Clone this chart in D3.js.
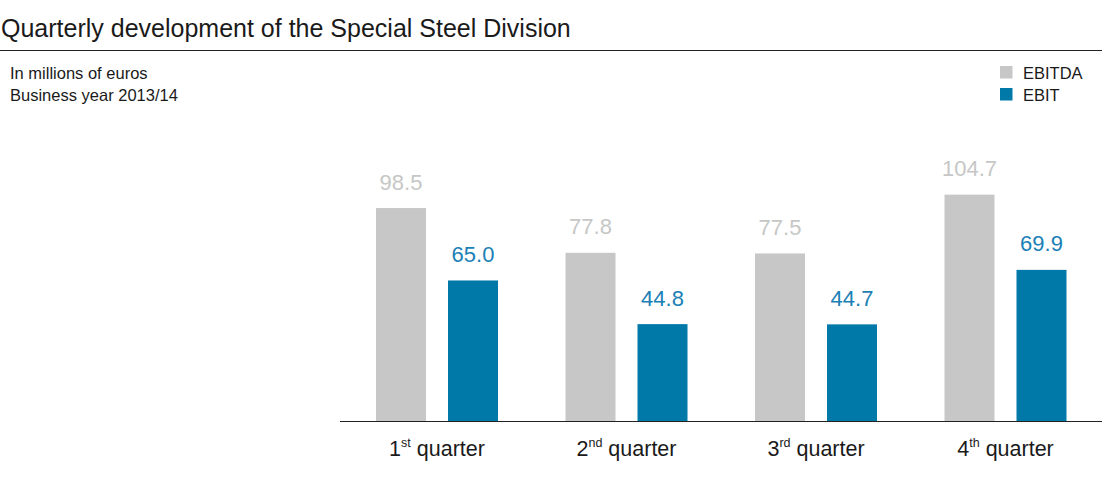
<!DOCTYPE html>
<html><head><meta charset="utf-8">
<script src="https://cdn.jsdelivr.net/npm/d3@7"></script>
<style>
html,body{margin:0;padding:0;background:#fff;}
svg{display:block;font-family:"Liberation Sans",Arial,Helvetica,sans-serif;}
</style></head>
<body><svg id="c" width="1102" height="477"></svg>
<script>
const categories = ["1", "2", "3", "4"];
const ordinals = ["st", "nd", "rd", "th"];
const seriesNames = ["EBITDA", "EBIT"];
const ebitda = [98.5, 77.8, 77.5, 104.7];
const ebit = [65.0, 44.8, 44.7, 69.9];

const colors = {EBITDA: "#c6c7c6", EBIT: "#0078a8"};
const labelColors = {EBITDA: "#c6c7c6", EBIT: "#1a80b6"};
const svg = d3.select("#c");
const W = 1102, baseY = 421;

// title
svg.append("text").attr("x", 1).attr("y", 37).attr("font-size", 25).attr("fill", "#1a1a1a").text("Quarterly development of the Special Steel Division");
svg.append("line").attr("x1", 0).attr("x2", W).attr("y1", 50.5).attr("y2", 50.5).attr("stroke", "#222").attr("stroke-width", 1);
svg.append("text").attr("x", 10).attr("y", 79).attr("font-size", 16.5).attr("fill", "#1a1a1a").text("In millions of euros");
svg.append("text").attr("x", 10).attr("y", 100.5).attr("font-size", 16.5).attr("fill", "#1a1a1a").text("Business year 2013/14");

// legend
seriesNames.forEach((s, i) => {
  const yy = 66 + i * 22;
  svg.append("rect").attr("x", 1000).attr("y", yy).attr("width", 12.5).attr("height", 12.5).attr("fill", colors[s]);
  svg.append("text").attr("x", 1023).attr("y", yy + 12.5).attr("font-size", 16.5).attr("fill", "#1a1a1a").text(s);
});

const x = d3.scaleBand().domain(categories).range([342.25, 1100.25]).padding(0);
const xs = d3.scaleBand().domain(seriesNames).range([-61, 61]).paddingInner(22/72).paddingOuter(0);
const y = d3.scaleLinear().domain([0, 100]).range([baseY, baseY - 216.2]);

const data = categories.map((c, i) => ({c, i, EBITDA: ebitda[i], EBIT: ebit[i]}));

const g = svg.selectAll("g.grp").data(data).join("g").attr("class", "grp")
  .attr("transform", d => `translate(${x(d.c) + x.bandwidth()/2},0)`);

seriesNames.forEach(s => {
  g.append("rect").attr("x", xs(s)).attr("width", xs.bandwidth())
    .attr("y", d => y(d[s])).attr("height", d => baseY - y(d[s])).attr("fill", colors[s]);
  g.append("text").attr("x", xs(s) + xs.bandwidth()/2).attr("y", d => y(d[s]) - 18.5)
    .attr("text-anchor", "middle").attr("font-size", 22).attr("fill", labelColors[s])
    .text(d => d[s].toFixed(1));
});

// axis line
svg.append("line").attr("x1", 340).attr("x2", W).attr("y1", baseY + 0.5).attr("y2", baseY + 0.5).attr("stroke", "#222").attr("stroke-width", 1);

// category labels
const lab = g.append("text").attr("x", 0).attr("y", 456).attr("text-anchor", "middle").attr("font-size", 21.5).attr("fill", "#1a1a1a");
lab.append("tspan").text(d => d.c);
lab.append("tspan").attr("font-size", 12.5).attr("dy", -9).text(d => ordinals[d.i]);
lab.append("tspan").attr("dy", 9).text(d => "\u00a0quarter");
</script></body></html>
